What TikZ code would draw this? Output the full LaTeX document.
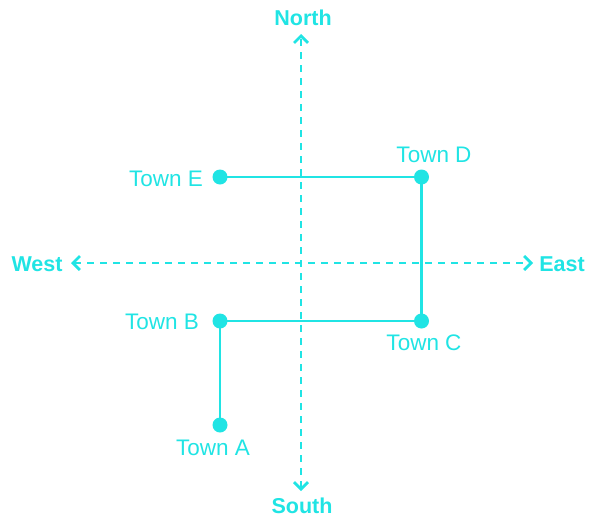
\documentclass[tikz,border=0pt]{standalone}
\usepackage{fontspec}
\setmainfont{Liberation Sans}
\usetikzlibrary{arrows.meta}
\definecolor{cy}{HTML}{20E4E4}
\begin{document}
\begin{tikzpicture}[x=1pt,y=-1pt,
  tip/.tip={Straight Barb[length=7pt,width=14pt,line width=2.8pt]},
  axis/.style={cy,line width=2.8pt,dash pattern=on 7pt off 6pt,tip-tip},
  road/.style={cy,line width=2.8pt},
  town/.style={circle,fill=cy,inner sep=0pt,minimum size=15pt},
  lbl/.style={text=cy,font=\fontsize{22.5}{26}\selectfont,inner sep=0pt},
  dir/.style={text=cy,font=\bfseries\fontsize{21.5}{25}\selectfont,inner sep=0pt}]
\useasboundingbox (0,0) rectangle (589,520);
\node[dir] (N) at (303,18) {North};
\node[dir] (S) at (302,506) {South};
\node[dir] (W) at (37,264) {West};
\node[dir] (Ea) at (562,264) {East};
\coordinate (nt) at (301,34);
\coordinate (st) at (301,491);
\coordinate (wt) at (71,263);
\coordinate (et) at (533,263);
\draw[axis] (st) -- (nt);
\draw[axis] (wt) -- (et);
\node[town] (E) at (220,177) {};
\node[town] (D) at (421.5,177) {};
\node[town] (C) at (421.5,321) {};
\node[town] (B) at (220,321) {};
\node[town] (A) at (220,425) {};
\draw[road] (E.center) -- (D.center) -- (C.center) -- (B.center) -- (A.center);
\node[lbl] (lE) at (166,179) {Town E};
\node[lbl] (lD) at (434,155) {Town D};
\node[lbl] (lC) at (424,343) {Town C};
\node[lbl] (lB) at (162,322) {Town B};
\node[lbl] (lA) at (213,448) {Town A};
\end{tikzpicture}
\end{document}
